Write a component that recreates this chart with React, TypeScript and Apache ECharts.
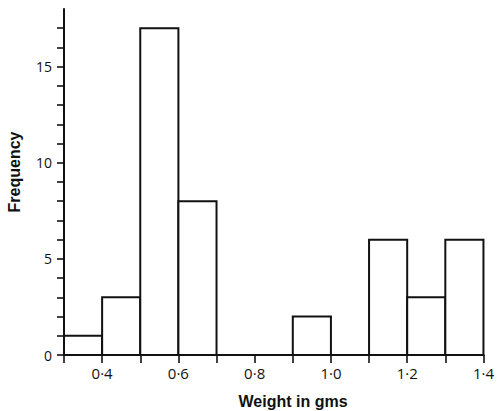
import React, { useEffect, useRef } from "react";
import * as echarts from "echarts";

const binStarts = [0.3, 0.4, 0.5, 0.6, 0.7, 0.8, 0.9, 1.0, 1.1, 1.2, 1.3];
const binWidth = 0.1;
const frequencies = [1, 3, 17, 8, 0, 0, 2, 0, 6, 3, 6];
const xTickValues = [0.3, 0.4, 0.5, 0.6, 0.7, 0.8, 0.9, 1.0, 1.1, 1.2, 1.3, 1.4];
const xLabelValues = [0.4, 0.6, 0.8, 1.0, 1.2, 1.4];
const yTickValues = [0, 1, 2, 3, 4, 5, 6, 7, 8, 9, 10, 11, 12, 13, 14, 15, 16, 17];
const yLabelValues = [0, 5, 10, 15];

const tickFont = "'Open Sans', 'DejaVu Sans', sans-serif";
const titleFont = "'Liberation Sans', Arial, sans-serif";

export default function App() {
  const ref = useRef<HTMLDivElement>(null);
  useEffect(() => {
    if (!ref.current) return;
    const chart = echarts.init(ref.current, undefined, { renderer: "svg" });
    const data = binStarts.map((s, i) => [s, s + binWidth, frequencies[i]]);
    chart.setOption({
      animation: false,
      backgroundColor: "#fff",
      grid: { left: 64, right: 13, top: 9, bottom: 56 },
      xAxis: {
        type: "value",
        min: 0.3,
        max: 1.4,
        interval: 0.1,
        splitLine: { show: false },
        axisLine: { show: true, onZero: false, lineStyle: { color: "#111", width: 2 } },
        axisTick: {
          show: true,
          length: 8,
          customValues: xTickValues,
          lineStyle: { color: "#111", width: 1.6 },
        },
        axisLabel: {
          customValues: xLabelValues,
          margin: 10,
          fontFamily: tickFont,
          fontWeight: "normal",
          fontSize: 15,
          color: "#111",
          formatter: (v: number) => v.toFixed(1).replace(".", "\u00b7"),
        },
      },
      yAxis: {
        type: "value",
        min: 0,
        max: 18,
        interval: 1,
        splitLine: { show: false },
        axisLine: { show: true, lineStyle: { color: "#111", width: 2 } },
        axisTick: {
          show: true,
          length: 7,
          customValues: yTickValues,
          lineStyle: { color: "#111", width: 1.6 },
        },
        axisLabel: {
          customValues: yLabelValues,
          margin: 12,
          fontFamily: tickFont,
          fontWeight: "normal",
          fontSize: 14,
          color: "#111",
        },
      },
      series: [
        {
          type: "custom",
          data,
          encode: { x: [0, 1], y: 2 },
          renderItem: (params: any, api: any) => {
            const x0 = api.value(0);
            const x1 = api.value(1);
            const y = api.value(2);
            if (!y) return null;
            const p0 = api.coord([x0, 0]);
            const p1 = api.coord([x1, y]);
            return {
              type: "rect",
              shape: { x: p0[0], y: p1[1], width: p1[0] - p0[0], height: p0[1] - p1[1] },
              style: { fill: "#fff", stroke: "#111", lineWidth: 2 },
            };
          },
        },
      ],
      graphic: [
        {
          type: "text",
          x: 14,
          y: 172,
          rotation: Math.PI / 2,
          style: {
            text: "Frequency",
            font: `bold 16px ${titleFont}`,
            fill: "#111",
            align: "center",
            verticalAlign: "middle",
          },
        },
        {
          type: "text",
          x: 293,
          y: 401,
          style: {
            text: "Weight in gms",
            font: `bold 16px ${titleFont}`,
            fill: "#111",
            align: "center",
            verticalAlign: "middle",
          },
        },
      ],
    });
    return () => chart.dispose();
  }, []);
  return (
    <div
      ref={ref}
      style={{ position: "fixed", left: 0, top: 0, width: 497, height: 411, background: "#fff" }}
    />
  );
}
